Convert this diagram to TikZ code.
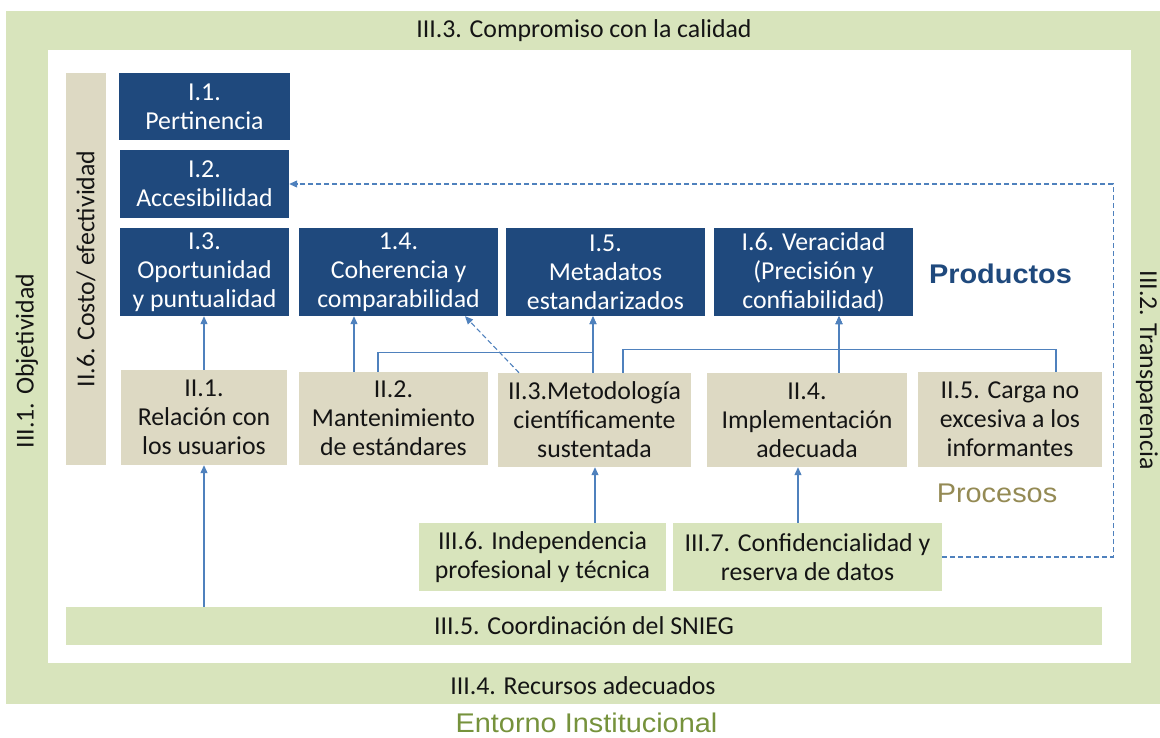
\documentclass[tikz,border=0pt]{standalone}
\usepackage{fontspec}
\setmainfont{Carlito}
\newfontfamily\arialf{Liberation Sans}
\usetikzlibrary{arrows.meta}
\definecolor{frameG}{RGB}{216,228,188}
\definecolor{prodB}{RGB}{31,73,125}
\definecolor{procT}{RGB}{221,217,195}
\definecolor{lineB}{RGB}{79,129,189}
\definecolor{procTxt}{RGB}{148,138,84}
\definecolor{entG}{RGB}{118,146,60}
\definecolor{txtK}{RGB}{20,20,20}
\begin{document}
\begin{tikzpicture}[x=1pt,y=-1pt,
  box/.style={inner sep=0pt, align=center, font=\fontsize{25.8}{29}\selectfont},
  prod/.style={box, fill=prodB, text=white},
  proc/.style={box, fill=procT, text=txtK},
  ent/.style={box, fill=frameG, text=txtK},
  lbl/.style={inner sep=0pt, font=\fontsize{25.8}{29}\selectfont, text=txtK},
  arl/.style={inner sep=0pt, xscale=1.07, font=\arialf\fontsize{27}{31}\selectfont},
  arlb/.style={inner sep=0pt, xscale=1.07, font=\arialf\bfseries\fontsize{27}{31}\selectfont},
  conn/.style={draw=lineB, line width=1.1pt, -{Triangle[length=8pt,width=7pt]}},
  dconn/.style={conn, dash pattern=on 5pt off 3pt}]
\path[use as bounding box] (0,0) rectangle (1160,738);
% frame
\fill[frameG] (6,11) rectangle (1160,704);
\fill[white] (48,50) rectangle (1131,663);
\node[lbl] (t3) at (584,31) {III.3. Compromiso con la calidad};
\node[lbl] (t4) at (583,686) {III.4. Recursos adecuados};
\node[lbl, rotate=90] (t1) at (27,361) {III.1. Objetividad};
\node[lbl, rotate=-90] (t2) at (1147,370) {III.2. Transparencia};
\node[arl, anchor=base, text=entG] (ent) at (586.5,732) {Entorno Institucional};
% products
\node[prod, minimum width=171pt, minimum height=67pt] (i1) at (204.5,106.5) {I.1.\\Pertinencia};
\node[prod, minimum width=169pt, minimum height=68pt] (i2) at (204.5,184) {I.2.\\Accesibilidad};
\node[prod, minimum width=169pt, minimum height=88pt] (i3) at (204.5,272) {I.3.\\Oportunidad\\y puntualidad};
\node[prod, minimum width=199pt, minimum height=88pt] (i4) at (398.5,272) {1.4.\\Coherencia y\\comparabilidad};
\node[prod, minimum width=199pt, minimum height=88pt] (i5) at (605.5,272) {I.5.\\Metadatos\\estandarizados};
\node[prod, minimum width=199pt, minimum height=88pt] (i6) at (813.5,272) {I.6. Veracidad\\(Precisión y\\confiabilidad)};
\node[arlb, text=prodB] (prodl) at (1000.5,274) {Productos};
% processes
\node[proc, rotate=90, minimum width=392pt, minimum height=40pt] (ii6) at (86,269) {II.6. Costo/ efectividad};
\node[proc, minimum width=166pt, minimum height=95pt] (ii1) at (204,417.5) {II.1.\\Relación con\\los usuarios};
\node[proc, minimum width=189pt, minimum height=93pt] (ii2) at (393.5,418.5) {II.2.\\Mantenimiento\\de estándares};
\node[proc, minimum width=193pt, minimum height=94pt] (ii3) at (594.5,420) {II.3.Metodología\\científicamente\\sustentada};
\node[proc, minimum width=200pt, minimum height=94pt] (ii4) at (807,420) {II.4.\\Implementación\\adecuada};
\node[proc, minimum width=184pt, minimum height=95pt] (ii5) at (1010,419.5) {II.5. Carga no\\excesiva a los\\informantes};
\node[arl, text=procTxt] (procl) at (997,493) {Procesos};
% environment
\node[ent, minimum width=247pt, minimum height=68pt] (iii6) at (542.5,557) {III.6. Independencia\\profesional y técnica};
\node[ent, minimum width=269pt, minimum height=68pt] (iii7) at (807.5,557) {III.7. Confidencialidad y\\reserva de datos};
\node[ent, minimum width=1036pt, minimum height=38pt] (iii5) at (584,626) {III.5. Coordinación del SNIEG};
% connectors
\draw[conn] (iii5.north -| ii1.south) -- (ii1.south);
\draw[conn] (ii1.north) -- (ii1.north |- i3.south);
\draw[conn] ([xshift=-39.5pt]ii2.north) -- ([xshift=-39.5pt]ii2.north |- i4.south);
\draw[conn] ([xshift=-15.5pt]ii2.north) -- ++(0,-19) -| ([xshift=-12.5pt]i5.south);
\draw[conn] ([xshift=-1.5pt]ii3.north) -- ([xshift=-1.5pt]ii3.north |- i5.south);
\draw[dconn] ([xshift=-75.5pt]ii3.north) -- ([xshift=66.5pt]i4.south);
\draw[conn] ([xshift=28.5pt]ii3.north) -- ++(0,-23) -| ([xshift=25.5pt]i6.south);
\draw[conn] ([xshift=32pt]ii4.north) -- ([xshift=32pt]ii4.north |- i6.south);
\draw[conn] ([xshift=46pt]ii5.north) -- ++(0,-22) -| ([xshift=25.5pt]i6.south);
\draw[conn] ([xshift=52.5pt]iii6.north) -- ([xshift=52.5pt]iii6.north |- ii3.south);
\draw[conn] ([xshift=-9.5pt]iii7.north) -- ([xshift=-9.5pt]iii7.north |- ii4.south);
\draw[dconn] (iii7.east) -- ++(171,0) |- (i2.east);
\end{tikzpicture}
\end{document}
